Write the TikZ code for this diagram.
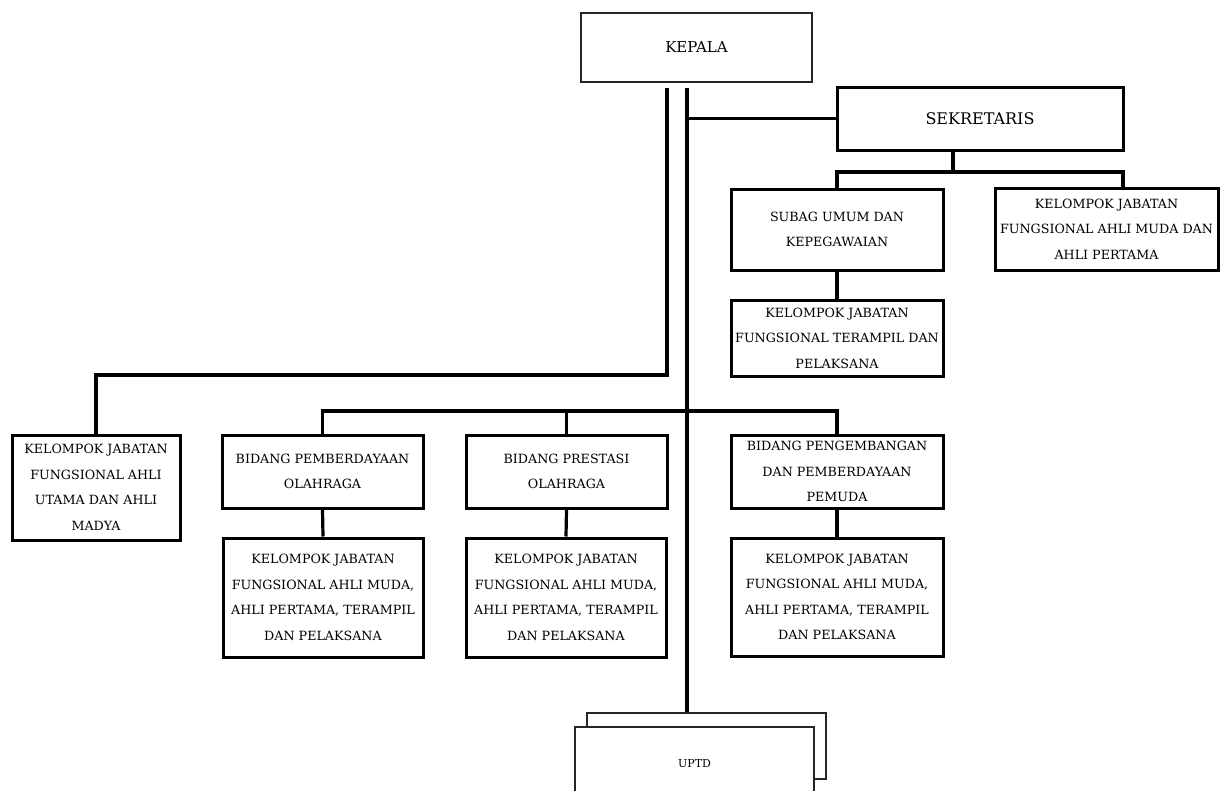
\documentclass[tikz,border=0pt]{standalone}
\usepackage{fontspec}
\setmainfont{DejaVu Serif}
\begin{document}
\begin{tikzpicture}[x=1pt,y=-1pt,
  box/.style={draw=black, line width=3pt, align=center, inner sep=0pt, text=black, font=\fontsize{12.7}{25.5}\selectfont},
  thinbox/.style={draw=black!85, line width=1.8pt, align=center, inner sep=0pt, text=black},
  conn/.style={line width=3.2pt, black}]
\useasboundingbox (0,0) rectangle (1220,790);
% boxes
\node[thinbox, minimum width=231pt, minimum height=69pt, font=\fontsize{15}{18}\selectfont] (kepala) at (696.5,47.5) {KEPALA};
\node[box, minimum width=286pt, minimum height=63pt, font=\fontsize{16}{19}\selectfont] (sek) at (980,118.5) {SEKRETARIS};
\node[box, minimum width=212pt, minimum height=81pt] (subag) at (837,229.5) {SUBAG UMUM DAN\\KEPEGAWAIAN};
\node[box, minimum width=223pt, minimum height=82pt] (kjmp) at (1106.5,229) {KELOMPOK JABATAN\\FUNGSIONAL AHLI MUDA DAN\\AHLI PERTAMA};
\node[box, minimum width=212pt, minimum height=76pt] (kjtp) at (837,338) {KELOMPOK JABATAN\\FUNGSIONAL TERAMPIL DAN\\PELAKSANA};
\node[box, minimum width=168pt, minimum height=105pt] (kjut) at (96,487.5) {KELOMPOK JABATAN\\FUNGSIONAL AHLI\\UTAMA DAN AHLI\\MADYA};
\node[box, minimum width=201pt, minimum height=73pt] (bpo) at (322.5,471.5) {BIDANG PEMBERDAYAAN\\OLAHRAGA};
\node[box, minimum width=201pt, minimum height=73pt] (bprest) at (566.5,471.5) {BIDANG PRESTASI\\OLAHRAGA};
\node[box, minimum width=212pt, minimum height=73pt] (bpp) at (837,471.5) {BIDANG PENGEMBANGAN\\DAN PEMBERDAYAAN\\PEMUDA};
\node[box, minimum width=200pt, minimum height=119pt] (low1) at (323,597.5) {KELOMPOK JABATAN\\FUNGSIONAL AHLI MUDA,\\AHLI PERTAMA, TERAMPIL\\DAN PELAKSANA};
\node[box, minimum width=200pt, minimum height=119pt] (low2) at (566,597.5) {KELOMPOK JABATAN\\FUNGSIONAL AHLI MUDA,\\AHLI PERTAMA, TERAMPIL\\DAN PELAKSANA};
\node[box, minimum width=212pt, minimum height=118pt] (low3) at (837,597) {KELOMPOK JABATAN\\FUNGSIONAL AHLI MUDA,\\AHLI PERTAMA, TERAMPIL\\DAN PELAKSANA};
\node[thinbox, minimum width=239pt, minimum height=66pt] (uptdback) at (706.5,746) {};
\node[thinbox, fill=white, minimum width=239pt, minimum height=73pt, font=\fontsize{11}{13}\selectfont] (uptd) at (694.5,763.5) {UPTD};
% coordinates
\coordinate (k1) at (667,88);
\coordinate (k2) at (687,88);
\coordinate (j1) at (667,375);
\coordinate (s1) at (953,150);
\coordinate (s2) at (953,172);
\coordinate (s3) at (1123,172);
\coordinate (h1) at (687,411);
% connectors
\draw[conn] (k1) -- (j1) -| (kjut.north);
\draw[conn] (k2) -- (k2 |- uptdback.north);
\draw[conn] (k2 |- sek.west) -- (sek.west);
\draw[conn] (s1) -- (s2);
\draw[conn] (subag.north) |- (s3) -- (s3 |- kjmp.north);
\draw[conn] (subag.south) -- (kjtp.north);
\draw[conn] (bpo.north) |- (h1) -| (bpp.north);
\draw[conn] (bprest.north) -- (bprest.north |- h1);
\draw[conn] (bpo.south) -- (low1.north);
\draw[conn] (bprest.south) -- (low2.north);
\draw[conn] (bpp.south) -- (low3.north);
\end{tikzpicture}
\end{document}
